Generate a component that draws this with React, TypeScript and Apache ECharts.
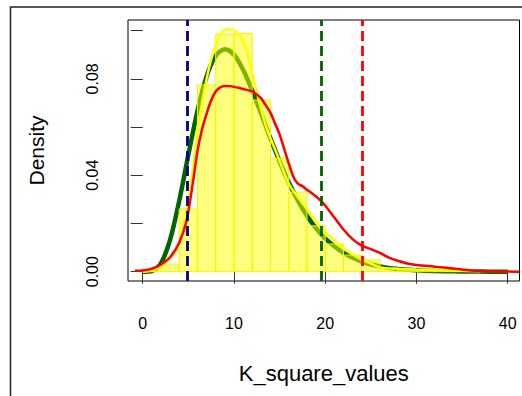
import React, { useEffect, useRef } from "react";
import * as echarts from "echarts";

// Histogram (density scale), breaks every 2 units
const histBreaks = [0, 2, 4, 6, 8, 10, 12, 14, 16, 18, 20, 22, 24, 26, 28, 30, 32, 34, 36, 38, 40];
const histDensity = [0.0002, 0.0028, 0.026, 0.0775, 0.0986, 0.0989, 0.0712, 0.047, 0.033, 0.019, 0.0115, 0.0069, 0.0049, 0.0012, 0.0007, 0.0005, 0.0003, 0.0002, 0.0001, 0.0001];

// Dark green theoretical density curve
const greenX = [0, 1, 2, 3, 4, 5, 6, 7, 8, 9, 10, 11, 12, 13, 14, 15, 16, 17, 18, 19, 20, 22, 24, 26, 28, 30, 32, 34, 36, 38, 40];
const greenY = [0, 0.00026, 0.0035, 0.0132, 0.0293, 0.0484, 0.0667, 0.081, 0.0896, 0.0923, 0.09, 0.0838, 0.0752, 0.0654, 0.0553, 0.0458, 0.0371, 0.0296, 0.0232, 0.018, 0.0137, 0.0078, 0.0042, 0.0022, 0.0011, 0.0006, 0.0003, 0.00014, 0.00007, 0.00003, 0.00002];

// Yellow density curve
const yellowX = [0, 1, 2, 3, 3.7, 4, 4.5, 5, 5.5, 6, 6.5, 7, 7.5, 8, 8.5, 9, 9.6, 10, 10.5, 11, 11.5, 12, 12.5, 13, 13.5, 14, 15, 16, 17, 18, 19, 20, 21, 22, 23, 24, 25, 26, 28, 30, 32, 34, 36, 37];
const yellowY = [0, 0.0005, 0.002, 0.0055, 0.009, 0.012, 0.02, 0.03, 0.043, 0.058, 0.07, 0.08, 0.088, 0.094, 0.0985, 0.1002, 0.1007, 0.1002, 0.0985, 0.0955, 0.0905, 0.0825, 0.0745, 0.067, 0.0605, 0.0555, 0.046, 0.0365, 0.031, 0.026, 0.021, 0.0165, 0.013, 0.0098, 0.0072, 0.005, 0.0034, 0.0018, 0.0012, 0.0009, 0.0007, 0.0005, 0.0003, 0.0002];

// Red density curve
const redX = [-0.85, 0, 1, 2, 3, 4, 4.8, 5.5, 6, 6.5, 7, 7.5, 8, 8.5, 9, 9.5, 10, 11, 12, 12.5, 13, 13.5, 14, 14.5, 15, 15.5, 16, 16.5, 17, 17.5, 18, 18.5, 19, 19.5, 20, 21, 22, 23, 24, 25, 26, 27, 28, 29, 30, 31, 32, 33, 34, 35, 36, 37, 38, 39, 40, 41.3];
const redY = [0.0004, 0.0005, 0.0012, 0.003, 0.006, 0.012, 0.021, 0.037, 0.05, 0.059, 0.0655, 0.071, 0.0748, 0.0765, 0.0771, 0.077, 0.0767, 0.0758, 0.0748, 0.0735, 0.0718, 0.069, 0.066, 0.0615, 0.057, 0.051, 0.045, 0.0395, 0.0365, 0.0355, 0.034, 0.0327, 0.0312, 0.0295, 0.0275, 0.0225, 0.0175, 0.0135, 0.0108, 0.0094, 0.0078, 0.0058, 0.0045, 0.0034, 0.0028, 0.0025, 0.0021, 0.0017, 0.0013, 0.0009, 0.0005, 0.0003, 0.0002, 0.0001, 0.0001, 0];

// Vertical dashed reference lines
const vlineValues = [4.93, 19.6, 24.1];
const vlineColors = ["#00008B", "#006400", "#FF0000"];

const xTicks = [0, 10, 20, 30, 40];
const yTicks = [0, 0.02, 0.04, 0.06, 0.08, 0.1];
const yLabelTicks = [0, 0.04, 0.08];

const zip = (xs: number[], ys: number[]) => xs.map((x, i) => [x, ys[i]]);

export default function App() {
  const ref = useRef<HTMLDivElement>(null);
  useEffect(() => {
    if (!ref.current) return;
    const chart = echarts.init(ref.current, null, { renderer: "svg" });
    const font = "Liberation Sans, Arial, sans-serif";
    const histData = histDensity.map((d, i) => [histBreaks[i], histBreaks[i + 1], d]);
    chart.setOption({
      animation: false,
      backgroundColor: "#ffffff",
      textStyle: { fontFamily: font },
      graphic: [
        {
          type: "rect",
          shape: { x: 10.5, y: 7, width: 700, height: 600 },
          style: { fill: "none", stroke: "#222", lineWidth: 1.5 },
          z: -10,
          silent: true,
        },
      ],
      grid: { left: 128, top: 20, width: 391.5, height: 261, show: true, borderColor: "#000", borderWidth: 1, backgroundColor: "transparent" },
      xAxis: {
        type: "value",
        min: -1.61,
        max: 41.29,
        axisLine: { show: false },
        splitLine: { show: false },
        axisTick: { show: true, length: 12, inside: false, customValues: xTicks, lineStyle: { color: "#333", width: 1 } },
        axisLabel: { customValues: xTicks, margin: 34, fontSize: 16, color: "#000", fontFamily: font },
        name: "K_square_values",
        nameLocation: "middle",
        nameGap: 81,
        nameTextStyle: { fontSize: 22, color: "#000", fontFamily: font },
      },
      yAxis: {
        type: "value",
        min: -0.00386,
        max: 0.10444,
        axisLine: { show: false },
        splitLine: { show: false },
        axisTick: { show: true, length: 12, inside: false, customValues: yTicks, lineStyle: { color: "#333", width: 1 } },
        axisLabel: {
          customValues: yLabelTicks,
          rotate: 90,
          margin: 28,
          fontSize: 16,
          color: "#000",
          fontFamily: font,
          formatter: (v: number) => v.toFixed(2),
        },
        name: "Density",
        nameLocation: "middle",
        nameGap: 81,
        nameTextStyle: { fontSize: 21, color: "#000", fontFamily: font },
      },
      series: [
        {
          type: "line",
          data: zip(greenX, greenY),
          smooth: 0.3,
          showSymbol: false,
          lineStyle: { color: "#006400", width: 4.5 },
          z: 1,
          clip: true,
        },
        {
          type: "custom",
          data: histData,
          encode: { x: [0, 1], y: 2 },
          z: 2,
          renderItem: (params: any, api: any) => {
            const p0 = api.coord([api.value(0), api.value(2)]);
            const p1 = api.coord([api.value(1), 0]);
            return {
              type: "rect",
              shape: { x: p0[0], y: p0[1], width: p1[0] - p0[0], height: p1[1] - p0[1] },
              style: { fill: "rgba(255,255,0,0.5)", stroke: "#f5f500", lineWidth: 1 },
            };
          },
        },
        {
          type: "line",
          data: zip(yellowX, yellowY),
          smooth: 0.3,
          showSymbol: false,
          lineStyle: { color: "#FFFF00", width: 2.5 },
          z: 3,
          clip: true,
        },
        {
          type: "line",
          data: zip(redX, redY),
          smooth: 0.3,
          showSymbol: false,
          lineStyle: { color: "#FF0000", width: 2.5 },
          z: 4,
          clip: true,
        },
        {
          type: "line",
          data: [],
          z: 5,
          markLine: {
            silent: true,
            symbol: ["none", "none"],
            label: { show: false },
            data: vlineValues.map((v, i) => ({ xAxis: v, lineStyle: { color: vlineColors[i], width: 2.8, type: [10, 5] } })),
          },
        },
      ],
    });
    return () => chart.dispose();
  }, []);
  return <div ref={ref} style={{ position: "absolute", left: 0, top: 0, width: 522, height: 396 }} />;
}
